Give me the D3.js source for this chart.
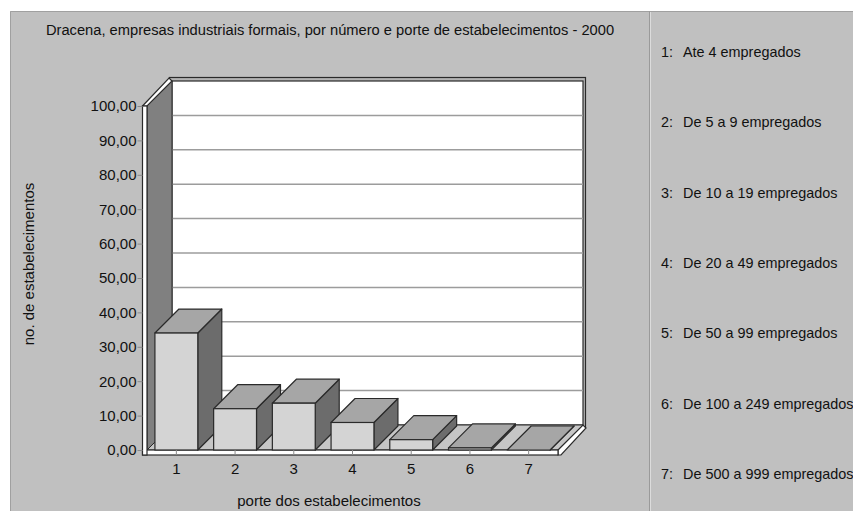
<!DOCTYPE html>
<html>
<head>
<meta charset="utf-8">
<script src="https://cdn.jsdelivr.net/npm/d3@7"></script>
<style>
  html, body { margin: 0; padding: 0; background: #fff; }
  svg { display: block; font-family: Arial, "Liberation Sans", sans-serif; }
</style>
</head>
<body>
<div id="chart"></div>
<script>
// dados do gráfico
const categories = ['1', '2', '3', '4', '5', '6', '7'];
const values = [34, 12, 13.6, 8, 3, 0.6, 0];
const yTicks = [0, 10, 20, 30, 40, 50, 60, 70, 80, 90, 100];
const legendLabels = [
  'Ate 4 empregados',
  'De 5 a 9 empregados',
  'De 10 a 19 empregados',
  'De 20 a 49 empregados',
  'De 50 a 99 empregados',
  'De 100 a 249 empregados',
  'De 500 a 999 empregados'
];
const title = 'Dracena, empresas industriais formais, por número e porte de estabelecimentos - 2000';
const yTitle = 'no. de estabelecimentos';
const xTitle = 'porte dos estabelecimentos';

const width = 853, height = 511;
const fontSize = 15;
const depth = 25;      // deslocamento da parede do fundo
const barDepth = 24;   // profundidade das barras
const edge = '#2a2a2a';

const svg = d3.select('#chart')
  .append('svg')
  .attr('width', width)
  .attr('height', height);

// painel cinza
svg.append('rect')
  .attr('x', 10).attr('y', 11)
  .attr('width', width - 10).attr('height', height - 11)
  .attr('fill', '#c0c0c0');
svg.append('path')
  .attr('d', `M10.5,${height}V11.5H${width}`)
  .attr('fill', 'none').attr('stroke', '#a0a0a0');
svg.append('line')
  .attr('x1', 649.5).attr('x2', 649.5).attr('y1', 11).attr('y2', height)
  .attr('stroke', '#9a9a9a');
svg.append('line')
  .attr('x1', 650.5).attr('x2', 650.5).attr('y1', 12).attr('y2', height)
  .attr('stroke', '#dcdcdc');

// escalas
const x = d3.scaleBand()
  .domain(categories)
  .range([147, 558])
  .paddingInner(0.27)
  .paddingOuter(0.135);

const y = d3.scaleLinear()
  .domain([0, 100])
  .range([450, 106]);

const x0 = x.range()[0], x1 = x.range()[1];
const y0 = y(0), yTop = y(100);

const poly = pts => 'M' + pts.map(p => p.join(',')).join('L') + 'Z';

// parede do fundo
svg.append('rect')
  .attr('x', x0 + depth - 2.5).attr('y', yTop - depth - 3.5)
  .attr('width', x1 - x0 + 5).attr('height', y0 - yTop + 6)
  .attr('fill', '#b4b4b4').attr('stroke', edge).attr('stroke-width', 1.2);
svg.append('rect')
  .attr('x', x0 + depth).attr('y', yTop - depth)
  .attr('width', x1 - x0).attr('height', y0 - yTop)
  .attr('fill', '#fff').attr('stroke', edge).attr('stroke-width', 1.2);

// linhas de grade no fundo
svg.append('g')
  .selectAll('line')
  .data(yTicks.filter(t => t > 0 && t < 100))
  .enter()
  .append('line')
  .attr('x1', x0 + depth).attr('x2', x1 + depth)
  .attr('y1', d => y(d) - depth).attr('y2', d => y(d) - depth)
  .attr('stroke', '#9c9c9c').attr('stroke-width', 1.5);

// parede lateral esquerda
svg.append('path')
  .attr('d', poly([[x0, yTop], [x0 + depth, yTop - depth], [x0 + depth, y0 - depth], [x0, y0]]))
  .attr('fill', '#808080').attr('stroke', edge).attr('stroke-width', 1);

// piso
svg.append('path')
  .attr('d', poly([[x0, y0], [x0 + depth, y0 - depth], [x1 + depth, y0 - depth], [x1, y0]]))
  .attr('fill', '#c6c6c6').attr('stroke', edge).attr('stroke-width', 1);
svg.append('path')
  .attr('d', poly([[x1, y0], [x1 + depth, y0 - depth], [x1 + depth + 3, y0 - depth + 3], [x1 + 3, y0 + 5], [x1, y0 + 5]]))
  .attr('fill', '#fff').attr('stroke', edge).attr('stroke-width', 1.2);
svg.append('rect')
  .attr('x', x0 - 4.5).attr('y', y0)
  .attr('width', x1 - x0 + 4.5).attr('height', 5)
  .attr('fill', '#fff').attr('stroke', edge).attr('stroke-width', 1.2);

// espessura da parede esquerda
svg.append('path')
  .attr('d', poly([[x0 - 4.5, yTop], [x0, yTop], [x0 + depth, yTop - depth], [x0 + depth - 3, yTop - depth - 3]]))
  .attr('fill', '#fff').attr('stroke', edge).attr('stroke-width', 1.2);
svg.append('rect')
  .attr('x', x0 - 4.5).attr('y', yTop)
  .attr('width', 4.5).attr('height', y0 - yTop + 5)
  .attr('fill', '#fff').attr('stroke', edge).attr('stroke-width', 1.2);

// barras 3D
const bars = svg.append('g')
  .selectAll('g')
  .data(categories.map((c, i) => ({ cat: c, value: values[i] })))
  .enter()
  .append('g');

bars.append('path')
  .attr('d', d => {
    const bx = x(d.cat) + x.bandwidth(), yt = y(d.value);
    return poly([[bx, yt], [bx + barDepth, yt - barDepth], [bx + barDepth, y0 - barDepth], [bx, y0]]);
  })
  .attr('fill', '#6c6c6c').attr('stroke', edge).attr('stroke-width', 1.2)
  .attr('stroke-linejoin', 'round');

bars.append('path')
  .attr('d', d => {
    const bx = x(d.cat), w = x.bandwidth(), yt = y(d.value);
    return poly([[bx, yt], [bx + barDepth, yt - barDepth], [bx + w + barDepth, yt - barDepth], [bx + w, yt]]);
  })
  .attr('fill', '#a6a6a6').attr('stroke', edge).attr('stroke-width', 1.2)
  .attr('stroke-linejoin', 'round');

bars.append('rect')
  .attr('x', d => x(d.cat))
  .attr('y', d => y(d.value))
  .attr('width', x.bandwidth())
  .attr('height', d => y0 - y(d.value))
  .attr('fill', '#d4d4d4').attr('stroke', edge).attr('stroke-width', 1.2);

// eixo Y
const fmt = d => d.toFixed(2).replace('.', ',');
const yAxis = svg.append('g')
  .attr('transform', `translate(${x0 - 4.5},0)`)
  .call(d3.axisLeft(y).tickValues(yTicks).tickFormat(fmt).tickSize(5).tickPadding(1));
yAxis.select('.domain').remove();
yAxis.selectAll('line').attr('stroke', '#8a8a8a');
yAxis.selectAll('text')
  .attr('font-size', fontSize).attr('font-family', null).attr('fill', '#111');

// eixo X
const xAxis = svg.append('g')
  .attr('transform', `translate(0,${y0})`)
  .call(d3.axisBottom(x).tickSize(5).tickPadding(8));
xAxis.select('.domain').remove();
xAxis.selectAll('line').attr('stroke', '#8a8a8a');
xAxis.selectAll('text')
  .attr('font-size', fontSize).attr('font-family', null).attr('fill', '#111');

// títulos
svg.append('text')
  .attr('x', 330).attr('y', 30).attr('dy', '0.35em')
  .attr('text-anchor', 'middle')
  .attr('font-size', 14.7).attr('fill', '#111')
  .text(title);

svg.append('text')
  .attr('transform', 'translate(29,264) rotate(-90)')
  .attr('dy', '0.35em')
  .attr('text-anchor', 'middle')
  .attr('font-size', fontSize).attr('fill', '#111')
  .text(yTitle);

svg.append('text')
  .attr('x', 329).attr('y', 501).attr('dy', '0.35em')
  .attr('text-anchor', 'middle')
  .attr('font-size', fontSize).attr('fill', '#111')
  .text(xTitle);

// legenda
const legend = svg.append('g')
  .selectAll('g')
  .data(legendLabels)
  .enter()
  .append('g')
  .attr('transform', (d, i) => `translate(661,${52 + i * 70.3})`);

legend.append('text')
  .attr('dy', '0.35em')
  .attr('font-size', 14.4).attr('fill', '#111')
  .text((d, i) => categories[i] + ':');

legend.append('text')
  .attr('x', 22).attr('dy', '0.35em')
  .attr('font-size', 14.4).attr('fill', '#111')
  .text(d => d);
</script>
</body>
</html>
